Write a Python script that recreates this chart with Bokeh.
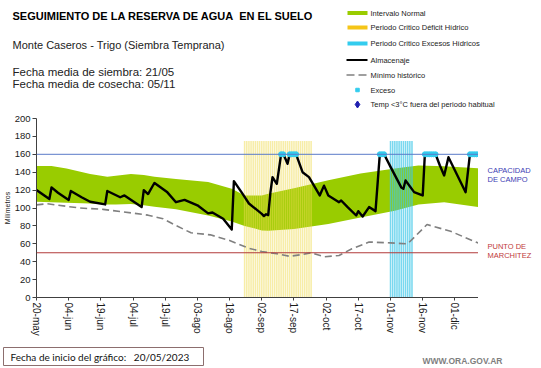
from bokeh.plotting import figure
from bokeh.models import Range1d, FixedTicker, Span
from bokeh.layouts import column, row
from bokeh.core.properties import value
from bokeh.embed import file_html
from bokeh.resources import INLINE

# ---------------- data (days counted from 20/05/2023) ----------------
title_text = "SEGUIMIENTO DE LA RESERVA DE AGUA\u00a0 EN EL SUELO"
subtitle_text = "Monte Caseros - Trigo (Siembra Temprana)"
sowing_text = "Fecha media de siembra: 21/05"
harvest_text = "Fecha media de cosecha: 05/11"
start_text = "Fecha de inicio del gráfico:\u00a0\u00a0 20/05/2023"
site_text = "WWW.ORA.GOV.AR"
y_label = "Milímetros"

x_tick_days = [0, 15, 30, 45, 60, 75, 90, 105, 120, 135, 150, 165, 180, 195]
x_tick_labels = ["20-may", "04-jun", "19-jun", "04-jul", "19-jul", "03-ago", "18-ago",
                 "02-sep", "17-sep", "02-oct", "17-oct", "01-nov", "16-nov", "01-dic"]
y_ticks = [0, 20, 40, 60, 80, 100, 120, 140, 160, 180, 200]

normal_days = [0, 7, 14, 25, 33, 37, 44, 50, 55, 65, 80, 91, 97, 105, 108, 120, 136, 151, 167, 178, 190, 206]
normal_upper = [147, 147, 144, 138, 135, 136, 138, 137, 135, 132.5, 129, 121.5, 114, 114, 116, 122, 131, 138.5, 144, 147.5, 146.7, 144.5]
normal_lower = [107, 106.5, 106, 105, 104, 104, 104.5, 103, 101.5, 98.5, 91.5, 85, 80, 75, 74.5, 76.5, 82, 89.5, 97, 104, 106.5, 101]

min_days = [0, 5, 20, 31, 45, 52, 59, 65, 72, 81, 90, 99, 105, 112, 118, 123, 128, 134, 141, 147, 155, 165, 173, 182, 193, 206]
min_hist = [103.5, 104.7, 100, 98.5, 94.3, 92, 88, 80.4, 72.3, 70, 63.7, 55, 51.4, 48.8, 46, 47.7, 50, 45.5, 47, 54.4, 62, 61, 60, 81.5, 74, 60.7]

almac_days = [0, 6, 7, 10, 15, 16, 21, 25, 32, 33, 39, 41, 49, 50, 52, 54, 55, 61, 65, 69,
              75, 80, 82, 87, 91, 92, 96, 99, 105, 106, 107, 108, 109, 110, 111, 112, 114, 115, 116, 117,
              118, 121, 124, 127, 132, 134, 136, 141, 142, 145, 149, 150, 152, 155, 158, 160, 162, 165, 170, 171,
              172, 176, 179, 180, 181, 186, 188, 190, 192, 200, 202, 206]
almac = [120, 110, 123, 117, 109, 119, 112, 107, 104, 119, 112, 114, 101, 120, 115.6, 124, 128, 117.5, 106.5, 109,
         103, 94, 95, 88, 76, 130, 116, 105, 93.5, 91, 93, 92, 117, 134.5, 130.7, 127, 160, 160, 155, 149.4,
         160, 160, 140, 134.5, 114, 125, 114, 106.5, 108.4, 101, 91.6, 96.5, 90.5, 101, 96.5, 160, 160, 146, 123, 121.5,
         130.7, 117.7, 115, 114, 160, 160, 147.5, 136.3, 156.8, 117.7, 160, 160]

exceso_days = [114, 115, 118, 119, 120, 121, 160, 161, 162, 181, 182, 183, 184, 185, 186, 202, 203, 204, 205, 206]
exceso_vals = [160, 160, 160, 160, 160, 160, 160, 160, 160, 160, 160, 160, 160, 160, 160, 160, 160, 160, 160, 160]

deficit_start, deficit_end = 97, 128
excess_start, excess_end = 165, 175
deficit_days = list(range(deficit_start, deficit_end + 1))
excess_days = list(range(excess_start, excess_end + 1))
period_top = 175

field_capacity = 160
wilting_point = 50
right_labels = ["CAPACIDAD", "DE  CAMPO", "PUNTO   DE", "MARCHITEZ"]
right_label_y = [141.9, 131.3, 56.5, 46.5]

legend_labels = ["Intervalo Normal", "Periodo Critico Déficit Hídrico", "Periodo Critico Excesos Hídricos",
                 "Almacenaje", "Mínimo histórico", "Exceso", "Temp <3°C fuera del periodo habitual"]

FONT = "Liberation Sans"
GREEN = "#99CC00"
YELLOW = "#F0DC50"
CYAN = "#40C8E8"


def blank(width, height, xr, yr, **kw):
    f = figure(width=width, height=height, x_range=xr, y_range=yr,
               x_axis_type=None, y_axis_type=None, toolbar_location=None,
               output_backend="svg", outline_line_color=None, **kw)
    f.frame_align = False
    return f


# ---------------- header (title + legend), page px coords ----------------
head = blank(540, 112, Range1d(0, 540), Range1d(112, 0), min_border=0)
head.text(x=[12], y=[15], text=[title_text], text_font=value(FONT), text_font_size="11px",
          text_font_style="bold", text_baseline="middle", text_color="black")
head.text(x=[12], y=[44], text=[subtitle_text], text_font=value(FONT), text_font_size="11px",
          text_baseline="middle", text_color="#222222")
head.text(x=[12, 12], y=[71, 83], text=[sowing_text, harvest_text], text_font=value(FONT),
          text_font_size="11.5px", text_baseline="middle", text_color="#222222")

rows_y = [12.5, 27, 43, 59.5, 74.5, 89.5, 104]
head.rect(x=[357, 357, 357], y=rows_y[:3], width=20, height=4,
          color=[GREEN, "#F5C518", "#33CCEE"], line_color=None)
head.line(x=[346, 367], y=[rows_y[3], rows_y[3]], line_color="black", line_width=2)
head.line(x=[346, 367], y=[rows_y[4], rows_y[4]], line_color="#808080", line_width=1.5, line_dash="8 4")
head.scatter(x=[357], y=[rows_y[5]], marker="square", size=3.5, color="#33CCEE")
head.scatter(x=[357], y=[rows_y[6]], marker="diamond", size=7, color="#1F1FB0")
head.text(x=[370] * 7, y=rows_y, text=legend_labels, text_font=value(FONT), text_font_size="7.5px",
          text_baseline="middle", text_color="#222222")

# ---------------- main chart ----------------
p = figure(width=478, height=230, x_range=Range1d(0, 206), y_range=Range1d(0, 200),
           toolbar_location=None, output_backend="svg",
           min_border_left=32, min_border_right=0, min_border_top=6, min_border_bottom=45,
           outline_line_color=None, background_fill_color="white")
p.frame_align = False
p.xgrid.visible = False
p.ygrid.visible = False

p.varea(x=normal_days, y1=normal_lower, y2=normal_upper, color=GREEN)
p.vbar(x=deficit_days, top=period_top, bottom=0, width=0.72, fill_color=YELLOW, fill_alpha=0.5, line_color=None)
p.vbar(x=excess_days, top=period_top, bottom=0, width=0.72, fill_color=CYAN, fill_alpha=0.7, line_color=None)

p.add_layout(Span(location=field_capacity, dimension="width", line_color="#5A7BC8", line_width=1))
p.add_layout(Span(location=wilting_point, dimension="width", line_color="#B23B3B", line_width=1))

p.line(min_days, min_hist, line_color="#808080", line_width=1.6, line_dash="7 4")
p.line(almac_days, almac, line_color="black", line_width=2.4, line_join="round")
p.scatter(exceso_days, exceso_vals, marker="circle", size=5, color="#33CCEE")

for ax in (p.xaxis, p.yaxis):
    ax.axis_line_color = "#404040"
    ax.major_tick_line_color = "#404040"
    ax.minor_tick_line_color = None
    ax.major_tick_in = 0
    ax.major_label_text_font = FONT
    ax.major_label_text_color = "#1a1a1a"

p.yaxis.ticker = FixedTicker(ticks=y_ticks)
p.yaxis.major_tick_out = 4
p.yaxis.major_label_standoff = 2
p.yaxis.major_label_text_font_size = "9.5px"
p.yaxis.axis_label = y_label
p.yaxis.axis_label_text_font = FONT
p.yaxis.axis_label_text_font_size = "7px"
p.yaxis.axis_label_text_font_style = "normal"
p.yaxis.axis_label_standoff = 1
p.yaxis.axis_label_text_color = "#222222"

p.xaxis.ticker = FixedTicker(ticks=x_tick_days)
p.xaxis.major_label_overrides = {d: lab for d, lab in zip(x_tick_days, x_tick_labels)}
p.xaxis.major_label_orientation = "vertical"
p.xaxis.major_tick_out = 3
p.xaxis.major_label_standoff = 2
p.xaxis.major_label_text_font_size = "10px"

# ---------------- right side labels ----------------
side = blank(62, 230, Range1d(0, 62), p.y_range,
             min_border_left=0, min_border_right=0, min_border_top=6, min_border_bottom=45)
side.text(x=[9, 9], y=right_label_y[:2], text=right_labels[:2], text_font=value(FONT),
          text_font_size="7.5px", text_baseline="middle", text_color="#3C3CB4")
side.text(x=[9, 9], y=right_label_y[2:], text=right_labels[2:], text_font=value(FONT),
          text_font_size="7.5px", text_baseline="middle", text_color="#C03A3A")

# ---------------- footer ----------------
foot = blank(540, 24, Range1d(0, 540), Range1d(24, 0), min_border=0)
foot.rect(x=[103], y=[14], width=200, height=18, fill_color="white", line_color="#8C6E6E", line_width=1)
foot.text(x=[10], y=[14], text=[start_text], text_font=value("Lato"), text_font_size="10px",
          text_baseline="middle", text_color="#111111")
foot.text(x=[422], y=[18], text=[site_text], text_font=value(FONT), text_font_size="8.5px",
          text_font_style="bold", text_baseline="middle", text_color="#7F7F7F")

layout = column(head, row(p, side, spacing=0), foot, spacing=0)
open("out.html", "w").write(file_html(layout, INLINE))
